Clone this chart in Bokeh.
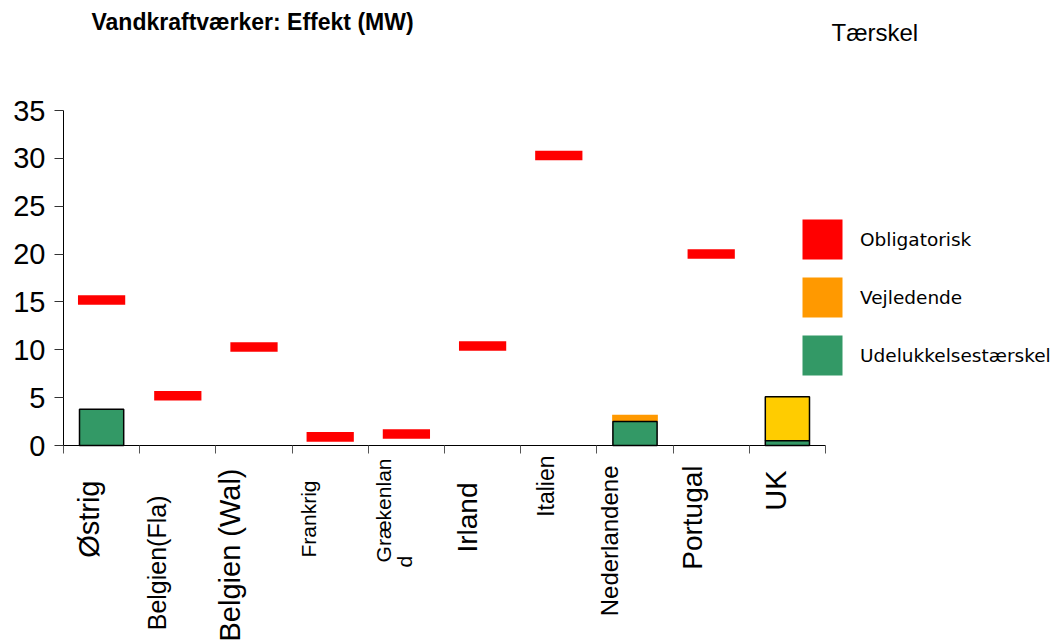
import math
from bokeh.plotting import figure
from bokeh.models import Range1d, FixedTicker, Label, Legend, LegendItem
from bokeh.embed import file_html
from bokeh.resources import INLINE

# ---------------- data ----------------
countries = ["Østrig", "Belgien(Fla)", "Belgien (Wal)", "Frankrig", "Grækenland",
             "Irland", "Italien", "Nederlandene", "Portugal", "UK"]
obligatorisk = [15.2, 5.2, 10.3, 0.9, 1.2, 10.4, 30.3, None, 20.0, None]   # MW threshold
udelukkelse = [3.8, 0, 0, 0, 0, 0, 0, 2.5, 0, 0.5]                          # exclusion threshold
vejledende = [0, 0, 0, 0, 0, 0, 0, 0.7, 0, 0]                               # indicative (stacked)
uk_other = [0, 0, 0, 0, 0, 0, 0, 0, 0, 4.6]                                 # yellow (stacked)
y_ticks = [0, 5, 10, 15, 20, 25, 30, 35]
y_max = 35

# ---------------- styles / layout ----------------
RED, ORANGE, GREEN, YELLOW = "#FF0000", "#FF9900", "#339966", "#FFCC00"
lbl_size = [29, 25, 29, 21, 21, 28, 23, 24, 28, 29]
lbl_dx = [-0.17, -0.27, -0.31, -0.28, -0.30, -0.20, -0.17, -0.33, -0.25, -0.15]
lbl_top = [480, 495, 468, 480, 458, 482, 455, 465, 465, 470]   # canvas px of label top
wrap_at = {4: 9}

W, H = 1058, 643
AX_L, AX_R, AX_T, AX_B = 63, 825, 110, 445     # plot area in canvas pixels
n = len(countries)
ppx = (AX_R - AX_L) / n
ppy = (AX_B - AX_T) / y_max


def sy(canvas_y):
    return H - canvas_y


p = figure(width=W, height=H, min_border=0, output_backend="svg", toolbar_location=None,
           x_range=Range1d(-AX_L / ppx, (W - AX_L) / ppx),
           y_range=Range1d(-(H - AX_B) / ppy, AX_B / ppy))
p.grid.visible = False
p.outline_line_color = None
p.background_fill_color = "white"
p.border_fill_color = "white"

xs = [i + 0.5 for i in range(n)]

green_top = udelukkelse
orange_top = [g + v for g, v in zip(udelukkelse, vejledende)]
yellow_top = [g + u for g, u in zip(udelukkelse, uk_other)]

oi = [i for i, v in enumerate(vejledende) if v > 0]
r_orange = p.vbar(x=[xs[i] for i in oi], bottom=[green_top[i] for i in oi],
                  top=[orange_top[i] for i in oi], width=0.6, fill_color=ORANGE, line_color=None)
yi = [i for i, v in enumerate(uk_other) if v > 0]
p.vbar(x=[xs[i] for i in yi], bottom=[green_top[i] for i in yi],
       top=[yellow_top[i] for i in yi], width=0.58, fill_color=YELLOW,
       line_color="black", line_width=1.5)
gi = [i for i, v in enumerate(udelukkelse) if v > 0]
r_green = p.vbar(x=[xs[i] for i in gi], bottom=0, top=[udelukkelse[i] for i in gi], width=0.58,
                 fill_color=GREEN, line_color=None)
p.vbar(x=[xs[i] for i in gi], bottom=0, top=[udelukkelse[i] for i in gi], width=0.58,
       fill_color=None, line_color="black", line_width=1.5)
ri = [i for i, v in enumerate(obligatorisk) if v is not None]
r_red = p.rect(x=[xs[i] for i in ri], y=[obligatorisk[i] for i in ri], width=0.62, height=1.0,
               fill_color=RED, line_color=None)

legend = Legend(items=[LegendItem(label="Obligatorisk", renderers=[r_red]),
                       LegendItem(label="Vejledende", renderers=[r_orange]),
                       LegendItem(label="Udelukkelsestærskel", renderers=[r_green])],
                location=(797, sy(380)), glyph_width=50, glyph_height=50, label_height=50,
                spacing=8, label_standoff=13, padding=0, margin=0,
                border_line_color=None, background_fill_alpha=0,
                label_text_font="DejaVu Sans", label_text_font_size="18.5px",
                label_text_color="black")
p.add_layout(legend, "center")

# axes, pinned at the data origin
p.yaxis.fixed_location = 0
p.yaxis.bounds = (0, y_max)
p.yaxis.ticker = FixedTicker(ticks=y_ticks)
p.yaxis.major_label_text_font = "Liberation Sans"
p.yaxis.major_label_text_font_size = "29px"
p.yaxis.major_label_text_color = "black"
p.yaxis.major_tick_out = 9
p.yaxis.major_tick_in = 0
p.yaxis.minor_tick_line_color = None
p.yaxis.major_label_standoff = 9
p.yaxis.axis_line_color = "black"
p.yaxis.major_tick_line_color = "#333333"

p.xaxis.fixed_location = 0
p.xaxis.bounds = (0, n)
p.xaxis.ticker = FixedTicker(ticks=list(range(n + 1)))
p.xaxis.major_label_overrides = {i: "" for i in range(n + 1)}
p.xaxis.major_tick_out = 8
p.xaxis.major_tick_in = 0
p.xaxis.minor_tick_line_color = None
p.xaxis.axis_line_color = "black"
p.xaxis.major_tick_line_color = "#555555"

# rotated category labels
for i, name in enumerate(countries):
    size = f"{lbl_size[i]}px"
    parts = [name] if i not in wrap_at else [name[:wrap_at[i]], name[wrap_at[i]:]]
    p.add_layout(Label(x=i + 0.5 + lbl_dx[i], y=sy(lbl_top[i]), x_units="data",
                       y_units="screen", text=parts[0], angle=math.pi / 2,
                       text_align="right", text_baseline="middle", text_color="black",
                       text_font="Liberation Sans", text_font_size=size))
    if len(parts) > 1:
        p.add_layout(Label(x=i + 0.5 + lbl_dx[i] + 0.28, y=sy(567), x_units="data",
                           y_units="screen", text=parts[1], angle=math.pi / 2,
                           text_align="left", text_baseline="middle", text_color="black",
                           text_font="Liberation Sans", text_font_size=size))

# titles
p.add_layout(Label(x=91, y=sy(21), x_units="screen", y_units="screen",
                   text="Vandkraftværker: Effekt (MW)", text_font="Liberation Sans",
                   text_font_style="bold", text_font_size="23px", text_baseline="alphabetic",
                   text_color="black"))
p.add_layout(Label(x=831, y=sy(32), x_units="screen", y_units="screen",
                   text="Tærskel", text_font="Liberation Sans",
                   text_font_size="24px", text_baseline="alphabetic", text_color="black"))

open("out.html", "w").write(file_html(p, INLINE))
